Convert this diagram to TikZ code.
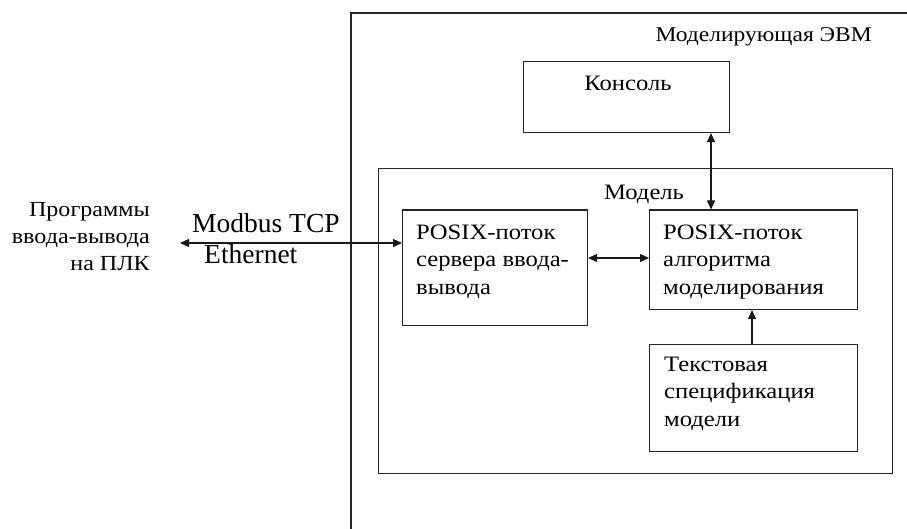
\documentclass[tikz,border=0pt]{standalone}
\usepackage{fontspec}
\setmainfont[FakeStretch=1.12]{Liberation Serif}
\newfontfamily\plainserif{Liberation Serif}
\usetikzlibrary{arrows.meta}
\begin{document}
\begin{tikzpicture}[x=1pt,y=-1pt,
  ln/.style={draw=black!85,line width=1.1pt},
  boxn/.style={ln,rectangle,inner sep=0pt,anchor=north west},
  txt/.style={inner sep=0pt,font=\fontsize{22}{27.7}\selectfont,align=left},
  arr/.style={line width=1.1pt,draw=black!90,{Triangle[length=9pt,width=8pt]}-{Triangle[length=9pt,width=8pt]}},
  arr1/.style={line width=1.1pt,draw=black!90,-{Triangle[length=9pt,width=8pt]}}]
\useasboundingbox (0,0) rectangle (907,529);
% outer computer
\draw[ln] (351,540) -- (351,13) -- (920,13);
\node[inner sep=0pt,font=\fontsize{21}{25}\selectfont,anchor=base east] (evm) at (872,42) {Моделирующая ЭВМ};
% console
\node[boxn,minimum width=206pt,minimum height=71pt] (cons) at (523,61) {};
\node[txt,anchor=base] (constxt) at (628,91) {Консоль};
% model
\node[boxn,minimum width=514pt,minimum height=305pt] (model) at (378,168) {};
\node[txt,anchor=base] (modtxt) at (644,200) {Модель};
% server thread
\node[boxn,minimum width=185pt,minimum height=115pt] (srv) at (402,209.5) {};
\node[txt,anchor=base west] (srvtxt) at (416,294.4) {POSIX-поток\\сервера ввода-\\вывода};
% algorithm thread
\node[boxn,minimum width=208pt,minimum height=99.5pt] (alg) at (649,209.5) {};
\node[txt,anchor=base west] (algtxt) at (663,294.4) {POSIX-поток\\алгоритма\\моделирования};
% specification
\node[boxn,minimum width=208pt,minimum height=107pt] (spec) at (649,344) {};
\node[txt,anchor=base west] (spectxt) at (664,426.4) {Текстовая\\спецификация\\модели};
% PLC programs
\node[inner sep=0pt,font=\fontsize{21.5}{27}\selectfont,align=right,anchor=base east] (plc) at (150,270) {Программы\\ввода-вывода\\на ПЛК};
\coordinate (plcend) at (180,243);
\node[inner sep=0pt,font=\plainserif\fontsize{27.5}{30}\selectfont,anchor=base west] (modbus) at (192,233) {Modbus TCP};
\node[inner sep=0pt,font=\plainserif\fontsize{27.5}{30}\selectfont,anchor=base west] (eth) at (204,264) {Ethernet};
% connectors
\draw[arr] (plcend) -- (srv.west |- plcend);
\draw[arr] (srv.east |- 0,258) -- (alg.west |- 0,258);
\draw[arr] (cons.south -| 711,0) -- (alg.north -| 711,0);
\draw[arr1] (spec.north -| 752,0) -- (alg.south -| 752,0);
\end{tikzpicture}
\end{document}
